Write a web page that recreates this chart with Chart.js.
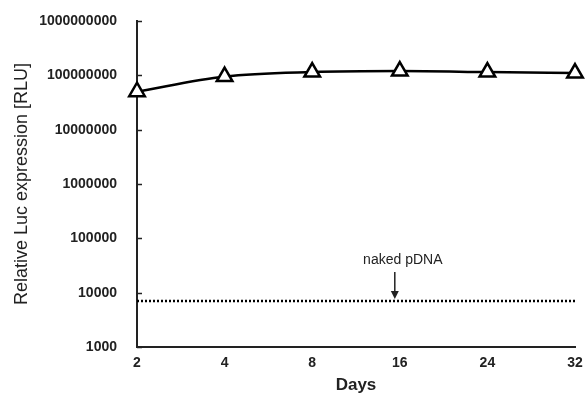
<!DOCTYPE html>
<html>
<head>
<meta charset="utf-8">
<script src="https://cdn.jsdelivr.net/npm/chart.js@4.4.1/dist/chart.umd.min.js"></script>
<style>
  html, body { margin: 0; padding: 0; background: #fff; }
  #wrap { width: 585px; height: 394px; }
</style>
</head>
<body>
<div id="wrap"><canvas id="chart_div"></canvas></div>
<script>
const days = ['2', '4', '8', '16', '24', '32'];
const lucValues = [5.0e7, 9.5e7, 1.15e8, 1.2e8, 1.15e8, 1.1e8];
const nakedLevel = [7000, 7000, 7000, 7000, 7000, 7000];
const yTicks = [1e3, 1e4, 1e5, 1e6, 1e7, 1e8, 1e9];
const noteLabel = 'naked pDNA';
const noteDay = '16';

const font = 'Liberation Sans, Arial, Helvetica, sans-serif';

// small inward tick marks on the y axis + arrow note
const extras = {
  id: 'extras',
  afterDraw(chart) {
    const c = chart.ctx, y = chart.scales.y, x = chart.scales.x;
    c.save();
    c.strokeStyle = '#222';
    c.lineWidth = 1.5;
    yTicks.forEach(v => {
      const py = Math.round(y.getPixelForValue(v)) + 0.5;
      c.beginPath();
      c.moveTo(x.left, py);
      c.lineTo(x.left + 5, py);
      c.stroke();
    });
    const ax = x.getPixelForValue(days.indexOf(noteDay)) - 5;
    const ay = y.getPixelForValue(nakedLevel[0]);
    c.fillStyle = '#222';
    c.font = '14px ' + font;
    c.textAlign = 'center';
    c.textBaseline = 'middle';
    c.fillText(noteLabel, ax + 8, ay - 41);
    c.lineWidth = 1.5;
    c.beginPath();
    c.moveTo(ax, ay - 29);
    c.lineTo(ax, ay - 8);
    c.stroke();
    c.beginPath();
    c.moveTo(ax - 4, ay - 10);
    c.lineTo(ax + 4, ay - 10);
    c.lineTo(ax, ay - 2);
    c.closePath();
    c.fill();
    c.restore();
  }
};

new Chart(document.getElementById('chart_div'), {
  type: 'line',
  data: {
    labels: days,
    datasets: [{
      label: 'Luc',
      data: lucValues,
      borderColor: '#000',
      borderWidth: 2.5,
      backgroundColor: '#fff',
      pointStyle: 'triangle',
      pointRadius: 9,
      pointBorderWidth: 2.5,
      pointBorderColor: '#000',
      pointBackgroundColor: '#fff',
      cubicInterpolationMode: 'monotone',
      clip: false,
      order: 1
    }, {
      label: 'naked pDNA',
      data: nakedLevel,
      borderColor: '#000',
      borderWidth: 2.5,
      borderDash: [2, 2],
      pointRadius: 0,
      order: 2
    }]
  },
  options: {
    responsive: true,
    maintainAspectRatio: false,
    animation: false,
    layout: { autoPadding: false, padding: { left: 0, right: 10, top: 21, bottom: 0 } },
    plugins: { legend: { display: false }, tooltip: { enabled: false } },
    scales: {
      x: {
        offset: false,
        grid: { display: false, drawTicks: false },
        border: { display: true, color: '#222', width: 2 },
        ticks: { color: '#222', padding: 8, maxRotation: 0, font: { family: font, size: 14, weight: 'bold' } },
        title: { display: true, text: 'Days', color: '#222', padding: { top: 0, bottom: -2 }, font: { family: font, size: 17, weight: '600' } },
        afterFit(s) { s.height = 47; s.paddingLeft = 0; s.paddingRight = 0; }
      },
      y: {
        type: 'logarithmic',
        min: 1000,
        max: 1e9,
        afterBuildTicks(s) { s.ticks = yTicks.map(v => ({ value: v })); },
        grid: { display: false, drawTicks: false },
        border: { display: true, color: '#222', width: 2 },
        ticks: {
          color: '#222', padding: 20,
          font: { family: font, size: 14, weight: 'bold' },
          callback: v => String(v)
        },
        title: { display: true, text: 'Relative Luc expression [RLU]', color: '#222', padding: { top: 11, bottom: 0 }, font: { family: font, size: 18 } },
        afterFit(s) { s.width = 137; s.paddingTop = 0; s.paddingBottom = 0; }
      }
    }
  },
  plugins: [extras]
});
</script>
</body>
</html>
